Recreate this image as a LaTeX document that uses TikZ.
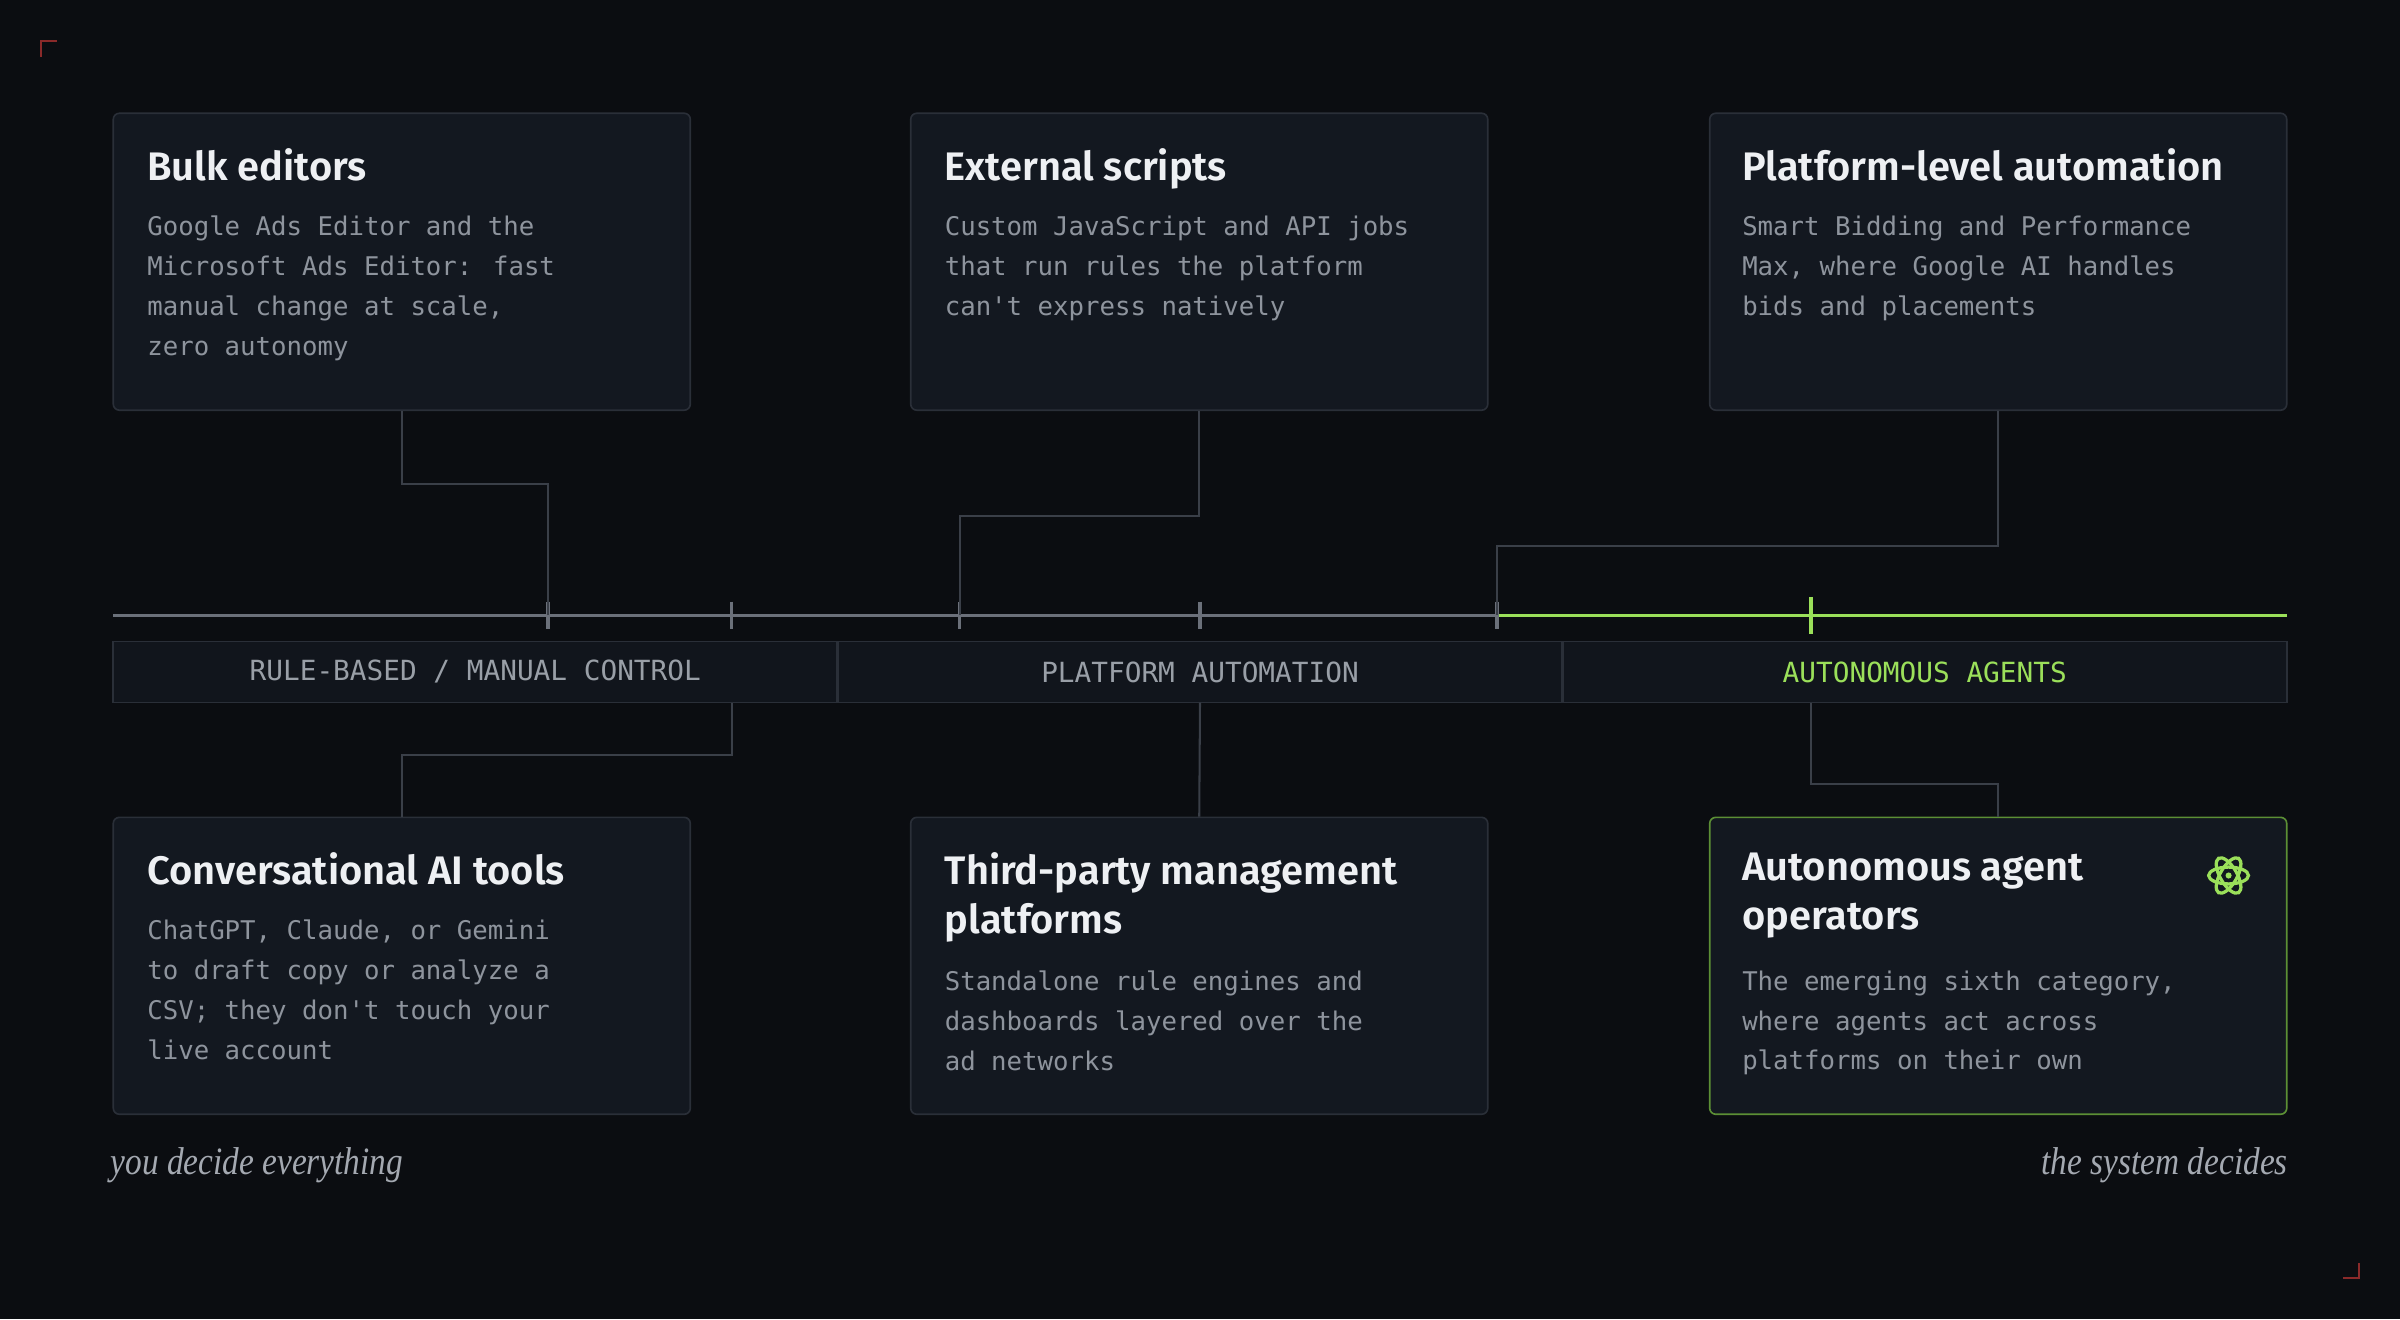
\documentclass[tikz,border=0pt]{standalone}
\usepackage{fontspec}
\setmainfont{Liberation Serif}
\newfontfamily\headfont{Fira Sans SemiBold}
\newfontfamily\codefont{DejaVu Sans Mono}
\newfontfamily\footfont{Liberation Serif Italic}[FakeStretch=0.86]
\usetikzlibrary{positioning}
\definecolor{bgdark}{HTML}{0B0D11}
\definecolor{cardfill}{HTML}{131820}
\definecolor{cardline}{HTML}{2A2F38}
\definecolor{headtext}{HTML}{EEF0F3}
\definecolor{bodytext}{HTML}{8E949D}
\definecolor{wire}{HTML}{3A3F48}
\definecolor{axisgray}{HTML}{6B707A}
\definecolor{limegreen}{HTML}{9BE05A}
\definecolor{edgegreen}{HTML}{5C8F35}
\definecolor{cornerred}{HTML}{8A2A2A}
\tikzset{
  card/.style={draw=cardline, fill=cardfill, rounded corners=3pt, line width=0.8pt,
    minimum width=282.75pt, minimum height=145.5pt, inner sep=0pt},
  cardtitle/.style={anchor=north west, inner sep=0pt, text=headtext, align=left,
    font=\headfont\fontsize{19.5}{24}\selectfont},
  cardbody/.style={anchor=north west, inner sep=0pt, text=bodytext, align=left,
    font=\codefont\fontsize{12.6}{19.5}\selectfont},
  band/.style={draw=cardline, fill=cardfill!70!bgdark, line width=0.8pt,
    minimum width=354.75pt, minimum height=30pt, inner sep=0pt,
    font=\codefont\fontsize{13.6}{14}\selectfont},
  link/.style={draw=wire, line width=1pt},
  tick/.style={draw=axisgray, line width=1.6pt},
  foot/.style={inner sep=0pt, text=bodytext!80!white, font=\footfont\fontsize{19}{20}\selectfont}
}
\begin{document}
\begin{tikzpicture}[x=0.75pt, y=-0.75pt]
  \fill[bgdark] (0,0) rectangle (1568,862);
  \useasboundingbox (0,0) rectangle (1568,862);
  % corner marks
  \draw[cornerred, line width=1pt] (27,37) -- (27,27) -- (37,27);
  \draw[cornerred, line width=1pt] (1531,835) -- (1541,835) -- (1541,825);

  % cards, top row
  \node[card] (bulk) at (262.5,171) {};
  \node[card] (scripts) at (783.5,171) {};
  \node[card] (platform) at (1305.5,171) {};
  % cards, bottom row
  \node[card] (chat) at (262.5,631) {};
  \node[card] (thirdparty) at (783.5,631) {};
  \node[card, draw=edgegreen] (agents) at (1305.5,631) {};

  \node[cardtitle] (bulkT) at (96,97) {Bulk editors};
  \node[cardbody] at (96,141) {Google Ads Editor and the\\Microsoft Ads Editor: fast\\manual change at scale,\\zero autonomy};
  \node[cardtitle] (scriptsT) at (617,97) {External scripts};
  \node[cardbody] at (617,141) {Custom JavaScript and API jobs\\that run rules the platform\\can't express natively};
  \node[cardtitle] (platformT) at (1138,97) {Platform-level automation};
  \node[cardbody] at (1138,141) {Smart Bidding and Performance\\Max, where Google AI handles\\bids and placements};
  \node[cardtitle] (chatT) at (96,557) {Conversational AI tools};
  \node[cardbody] at (96,601) {ChatGPT, Claude, or Gemini\\to draft copy or analyze a\\CSV; they don't touch your\\live account};
  \node[cardtitle] (thirdT) at (617,557) {Third-party management\\platforms};
  \node[cardbody] at (617,634) {Standalone rule engines and\\dashboards layered over the\\ad networks};
  \node[cardtitle] (agentsT) at (1138,557) {Autonomous agent\\operators};
  \node[cardbody] at (1138,634) {The emerging sixth category,\\where agents act across\\platforms on their own};

  % atom icon
  \begin{scope}[shift={(1456,572)}, limegreen, line width=1.6pt]
    \foreach \a in {0,60,120}
      \draw[rotate=\a] (0,0) ellipse (13 and 5.5);
    \fill (0,0) circle (2);
  \end{scope}

  % axis
  \coordinate (axL) at (74,402);
  \coordinate (axM) at (978,402);
  \coordinate (axR) at (1494,402);
  \draw[axisgray, line width=1.6pt] (axL) -- (axM);
  \draw[limegreen, line width=1.6pt] (axM) -- (axR);
  \foreach \t/\x in {t1/358, t2/478, t3/627, t4/784, t5/978}{
    \coordinate (\t) at (\x,402);
    \draw[tick] (\x,393) -- (\x,411);
  }
  \coordinate (t6) at (1183,402);
  \draw[limegreen, line width=1.8pt] (1183,390) -- (1183,414);

  % bands
  \node[band, text=bodytext!90!white] (manual) at (310.5,439) {RULE-BASED / MANUAL CONTROL};
  \node[band, text=bodytext!90!white] (auto) at (784,439) {PLATFORM AUTOMATION};
  \node[band, text=limegreen] (agentic) at (1257.5,439) {AUTONOMOUS AGENTS};

  % connectors
  \draw[link] (bulk.south) |- (358,316) -- (t1);
  \draw[link] (scripts.south) |- (627,337) -- (t3);
  \draw[link] (platform.south) |- (978,357) -- (t5);
  \draw[link] (chat.north) |- (478,493) -- (478,459);
  \draw[link] (thirdparty.north) -- (784,459);
  \draw[link] (agents.north) |- (1183,512) -- (1183,459);

  % footer
  \node[foot, anchor=west] (left) at (72,761) {you decide everything};
  \node[foot, anchor=east] (right) at (1495,761) {the system decides};
\end{tikzpicture}
\end{document}
